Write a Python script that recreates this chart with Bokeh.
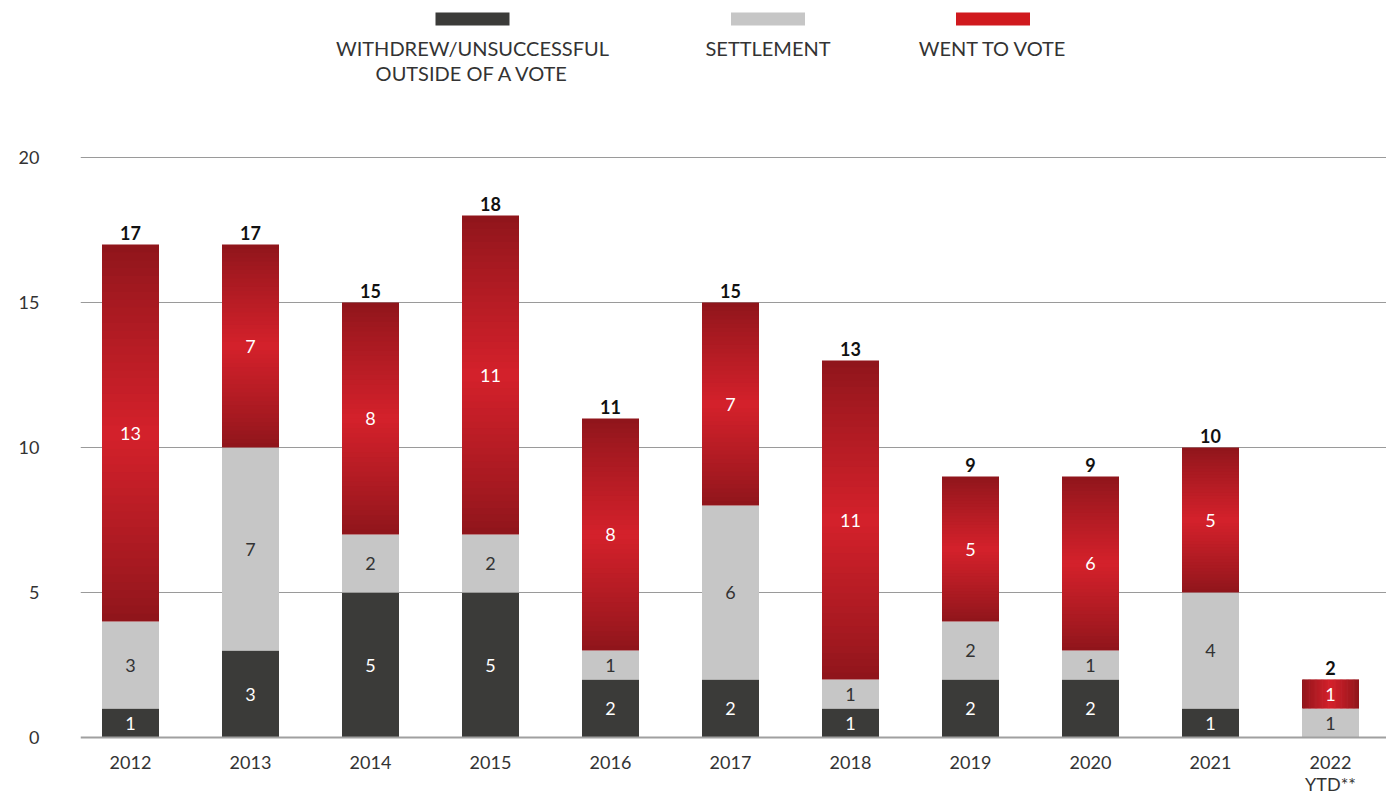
import numpy as np
from bokeh.plotting import figure
from bokeh.models import FixedTicker, Range1d, Span
from bokeh.core.properties import value
from bokeh.embed import file_html
from bokeh.resources import INLINE

# ---------------- data ----------------
years = ["2012", "2013", "2014", "2015", "2016", "2017", "2018", "2019", "2020", "2021", "2022\nYTD**"]
withdrew = [1, 3, 5, 5, 2, 2, 1, 2, 2, 1, 0]
settlement = [3, 7, 2, 2, 1, 6, 1, 2, 1, 4, 1]
went_to_vote = [13, 7, 8, 11, 8, 7, 11, 5, 6, 5, 1]
series_names = ["WITHDREW/UNSUCCESSFUL\nOUTSIDE OF A VOTE", "SETTLEMENT", "WENT TO VOTE"]
y_ticks = [0, 5, 10, 15, 20]

# ---------------- style ----------------
DARK = "#3b3b39"
GRAY = "#c6c6c6"
RED_EDGE = (0x8e, 0x15, 0x1b)
RED_MID = (0xd4, 0x21, 0x2b)
RED_SOLID = "#d0191e"
TEXT = "#333333"
FONT = "Lato"
BAR_W = 0.475

W, H = 1386, 794
LEFT = 80
BASE_PX = 737          # pixel row of value 0
PX_PER_UNIT = 29.0
PX_PER_CAT = 120.0
FIRST_CENTER_PX = 130.0

def ypx(py):  # page pixel row -> data y
    return (BASE_PX - py) / PX_PER_UNIT

def xpx(px):  # page pixel column -> data x
    return (px - FIRST_CENTER_PX) / PX_PER_CAT

p = figure(width=W, height=H, output_backend="svg", toolbar_location=None,
           x_range=Range1d(xpx(LEFT), xpx(W)), y_range=Range1d(ypx(H), ypx(0)),
           min_border_left=LEFT, min_border_right=0, min_border_top=0, min_border_bottom=0)
p.outline_line_color = None
p.background_fill_color = "white"
p.border_fill_color = "white"

# y axis
p.yaxis.ticker = FixedTicker(ticks=y_ticks)
p.yaxis.axis_line_color = None
p.yaxis.major_tick_line_color = None
p.yaxis.minor_tick_line_color = None
p.yaxis.major_label_standoff = 35
p.yaxis.major_label_text_font = FONT
p.yaxis.major_label_text_font_size = "18px"
p.yaxis.major_label_text_color = TEXT

# x axis drawn inside the frame (labels as text, baseline as span)
p.xaxis.visible = False
p.xgrid.grid_line_color = None
p.ygrid.ticker = FixedTicker(ticks=y_ticks[1:])
p.ygrid.grid_line_color = "#9a9a9a"
p.ygrid.grid_line_width = 1
p.add_layout(Span(location=0, dimension="width", line_color="#a0a0a0", line_width=2))

x = np.arange(len(years), dtype=float)
w = np.array(withdrew, dtype=float)
s = np.array(settlement, dtype=float)
v = np.array(went_to_vote, dtype=float)
totals = w + s + v

def multiline(xs, labels, first_row_px, step_px, size, color):
    rows = [lab.split("\n") for lab in labels]
    n = max(len(r) for r in rows)
    for j in range(n):
        xx = [xs[i] for i, r in enumerate(rows) if len(r) > j]
        tt = [r[j] for r in rows if len(r) > j]
        p.text(x=xx, y=[ypx(first_row_px + j * step_px)] * len(xx), text=tt, text_color=color,
               text_align="center", text_baseline="middle", text_font=value(FONT),
               text_font_size=size)

multiline(list(x), years, 762, 21, "18px", TEXT)

# dark and gray segments
p.quad(left=x - BAR_W / 2, right=x + BAR_W / 2, bottom=0, top=w, fill_color=DARK, line_color=None)
p.quad(left=x - BAR_W / 2, right=x + BAR_W / 2, bottom=w, top=w + s, fill_color=GRAY, line_color=None)

# red gradient segments (dark edges, bright middle along the longer side)
N = 48
L, R, B, T, C = [], [], [], [], []
def col(tm):
    k = 1 - abs(2 * tm - 1)
    k = k ** 0.9
    c = [int(round(RED_EDGE[j] + (RED_MID[j] - RED_EDGE[j]) * k)) for j in range(3)]
    return "#%02x%02x%02x" % tuple(c)

for i in range(len(years)):
    b0 = w[i] + s[i]
    h = v[i]
    if h <= 0:
        continue
    vertical = h * PX_PER_UNIT >= BAR_W * PX_PER_CAT
    for k in range(N):
        t0, t1 = k / N, (k + 1) / N
        ov = 0.6 / N if k < N - 1 else 0
        tm = (t0 + t1) / 2
        if vertical:
            L.append(x[i] - BAR_W / 2); R.append(x[i] + BAR_W / 2)
            B.append(b0 + h * t0); T.append(b0 + h * (t1 + ov))
        else:
            L.append(x[i] - BAR_W / 2 + BAR_W * t0); R.append(x[i] - BAR_W / 2 + BAR_W * (t1 + ov))
            B.append(b0); T.append(b0 + h)
        C.append(col(tm))
p.quad(left=L, right=R, bottom=B, top=T, fill_color=C, line_color=None)

# segment labels
lx, ly, lt, lc = [], [], [], []
for i in range(len(years)):
    for base, val, c in ((0, w[i], "white"), (w[i], s[i], TEXT), (w[i] + s[i], v[i], "white")):
        if val > 0:
            lx.append(x[i]); ly.append(base + val / 2); lt.append(str(int(val))); lc.append(c)
p.text(x=lx, y=ly, text=lt, text_color=lc, text_align="center", text_baseline="middle",
       text_font=value(FONT), text_font_size="18px")

# totals
p.text(x=x, y=totals, text=[str(int(t)) for t in totals], text_color="#111111",
       text_align="center", text_baseline="bottom", y_offset=-5,
       text_font=value(FONT), text_font_size="18px", text_font_style="bold")

# custom legend (swatch above label)
leg_x = [xpx(472), xpx(767.5), xpx(992.5)]
leg_colors = [DARK, GRAY, RED_SOLID]
p.rect(x=leg_x, y=[ypx(18.5)] * 3, width=74 / PX_PER_CAT, height=13 / PX_PER_UNIT,
       fill_color=leg_colors, line_color=None)
multiline(leg_x, series_names, 47, 25, "20px", TEXT)

open("out.html", "w").write(file_html(p, INLINE))
